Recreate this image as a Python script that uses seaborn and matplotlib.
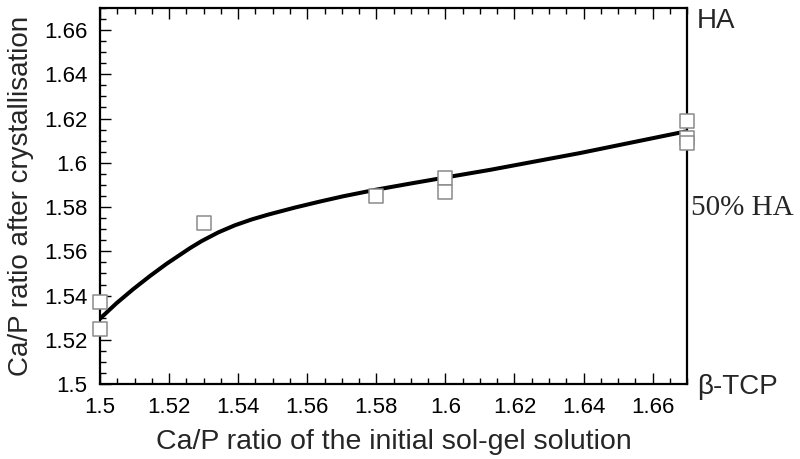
import numpy as np
import pandas as pd
import matplotlib
matplotlib.use("Agg")
import matplotlib.pyplot as plt
from matplotlib.ticker import MultipleLocator
import seaborn as sns

# Dados medidos (quadrados)
x_medido = [1.50, 1.50, 1.53, 1.58, 1.60, 1.60, 1.67, 1.67, 1.67]
y_medido = [1.537, 1.525, 1.573, 1.585, 1.593, 1.587, 1.619, 1.611, 1.609]

# Curva ajustada
x_curva = [1.5000, 1.5048, 1.5096, 1.5145, 1.5193, 1.5261, 1.5295, 1.5343,
           1.5391, 1.5439, 1.5487, 1.5565, 1.5637, 1.5705, 1.5801, 1.5898,
           1.5994, 1.6129, 1.639, 1.6694]
y_curva = [1.5296, 1.5366, 1.5429, 1.5489, 1.5544, 1.5615, 1.5647, 1.5686,
           1.5718, 1.5744, 1.5766, 1.5798, 1.5825, 1.5849, 1.5879, 1.5906,
           1.5932, 1.5968, 1.6044, 1.6141]

# Rotulos do eixo direito
fases_pos = [1.5, 1.581, 1.6655]
fases_rot = ["\u03b2-TCP", "50% HA", "HA"]

sns.set_style("ticks")
plt.rcParams['font.family'] = ['Liberation Sans', 'DejaVu Sans']

df_medido = pd.DataFrame({'x': x_medido, 'y': y_medido})
df_curva = pd.DataFrame({'x': x_curva, 'y': y_curva})

fig = plt.figure(figsize=(8, 4.59), dpi=100)
ax = fig.add_axes([0.125, 0.163, 0.734, 0.82])

sns.lineplot(data=df_curva, x='x', y='y', ax=ax, color='black', linewidth=2.9,
             sort=False, zorder=2)
plt.setp(ax.lines, solid_joinstyle='round', solid_capstyle='round')
sns.scatterplot(data=df_medido, x='x', y='y', ax=ax, marker='s', s=100,
                facecolor='white', edgecolor='#8a8a8a', linewidth=1.1,
                zorder=3, clip_on=False)

ax.set_xlim(1.5, 1.67)
ax.set_ylim(1.5, 1.67)
ax.xaxis.set_major_locator(MultipleLocator(0.02))
ax.xaxis.set_minor_locator(MultipleLocator(0.005))
ax.yaxis.set_major_locator(MultipleLocator(0.02))
ax.yaxis.set_minor_locator(MultipleLocator(0.005))
ax.xaxis.set_major_formatter(plt.FuncFormatter(lambda v, p: f"{v:.2f}".rstrip('0').rstrip('.')))
ax.yaxis.set_major_formatter(plt.FuncFormatter(lambda v, p: f"{v:.2f}".rstrip('0').rstrip('.')))

ax.tick_params(which='both', direction='in', top=True, right=True, colors='black',
               labelsize=16, width=1.0)
ax.tick_params(which='major', length=8, pad=9)
ax.tick_params(which='minor', length=4)
for s in ax.spines.values():
    s.set_linewidth(1.6)
    s.set_color('black')

ax.set_xlabel("Ca/P ratio of the initial sol-gel solution", fontsize=20.5, labelpad=8)
ax.set_ylabel("Ca/P ratio after crystallisation", fontsize=20, labelpad=7)

ax2 = ax.twinx()
ax2.set_ylim(1.5, 1.67)
ax2.set_yticks(fases_pos)
ax2.set_yticklabels(fases_rot)
ax2.tick_params(axis='y', length=0, pad=7, labelsize=20)
lab50 = ax2.get_yticklabels()[1]
lab50.set_family(['Liberation Serif', 'DejaVu Serif'])
lab50.set_fontsize(21)
lab50.set_x(0.99)
for s in ax2.spines.values():
    s.set_visible(False)

fig.savefig("out.png", dpi=100)
